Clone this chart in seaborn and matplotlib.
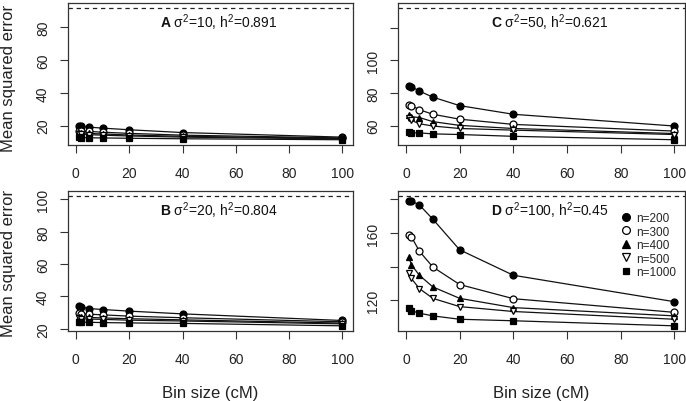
import numpy as np
import pandas as pd
import matplotlib
matplotlib.use('Agg')
import matplotlib.pyplot as plt
from matplotlib.lines import Line2D
import seaborn as sns

# data
bins = [1, 2, 5, 10, 20, 40, 100]
sizes = [200, 300, 400, 500, 1000]
panel_labels = ['A', 'B', 'C', 'D']
sigma2 = [10, 20, 50, 100]
h2 = [0.891, 0.804, 0.621, 0.45]

# one row per sample size n=200,300,400,500,1000
mse_A = [[19.6, 19.5, 19.1, 18.5, 17.5, 15.8, 13.0],
         [17.0, 16.8, 16.5, 16.0, 15.3, 14.2, 12.5],
         [15.8, 15.6, 15.3, 14.9, 14.3, 13.5, 12.2],
         [15.0, 14.8, 14.5, 14.2, 13.7, 13.0, 11.9],
         [12.8, 12.7, 12.6, 12.5, 12.3, 12.0, 11.4]]
mse_B = [[33.8, 33.4, 32.5, 31.9, 30.9, 29.2, 25.1],
         [29.5, 29.3, 29.0, 28.6, 27.8, 26.8, 24.3],
         [27.5, 27.3, 27.0, 26.7, 26.2, 25.5, 23.5],
         [26.5, 26.3, 26.0, 25.8, 25.3, 24.8, 23.0],
         [24.2, 24.1, 24.0, 23.8, 23.6, 23.3, 21.8]]
mse_C = [[84.2, 84.0, 81.2, 77.5, 72.3, 67.0, 59.8],
         [72.9, 72.3, 69.8, 67.0, 64.0, 60.8, 56.7],
         [66.7, 65.5, 65.0, 62.5, 60.2, 58.3, 55.2],
         [64.6, 63.3, 61.2, 59.8, 58.3, 57.3, 54.6],
         [56.0, 55.6, 55.6, 55.0, 54.6, 53.5, 51.4]]
mse_D = [[179.0, 179.0, 176.6, 168.2, 150.0, 134.9, 119.2],
         [159.0, 157.8, 149.2, 139.8, 129.4, 121.0, 112.9],
         [146.0, 141.2, 134.9, 128.0, 121.2, 115.7, 110.8],
         [136.5, 133.0, 127.0, 121.2, 116.3, 113.4, 108.8],
         [115.3, 113.9, 112.4, 110.8, 108.8, 107.9, 104.9]]
all_mse = [mse_A, mse_B, mse_C, mse_D]

sns.set_theme(style='ticks')
plt.rcParams['font.family'] = ['Liberation Sans', 'DejaVu Sans']
plt.rcParams['mathtext.fontset'] = 'custom'
plt.rcParams['mathtext.rm'] = 'Liberation Sans'
plt.rcParams['mathtext.bf'] = 'Liberation Sans:bold'
plt.rcParams['mathtext.it'] = 'Liberation Sans:italic'

markers = ['o', 'o', '^', 'v', 's']
faces = ['black', 'white', 'black', 'white', 'black']
msizes = [5, 5, 5, 5, 4.4]

fig = plt.figure(figsize=(6.86, 4.02), dpi=100)
# A top-left, B bottom-left, C top-right, D bottom-right
pos = {'A': [0.0991, 0.6368, 0.4155, 0.3532],
       'B': [0.0991, 0.1741, 0.4155, 0.3483],
       'C': [0.5802, 0.6368, 0.4184, 0.3532],
       'D': [0.5802, 0.1741, 0.4184, 0.3483]}

yticks = {'A': [20, 40, 60, 80], 'B': [20, 40, 60, 80, 100],
          'C': [60, 80, 100, 120], 'D': [120, 140, 160, 180]}
ylabs = {'A': ['20', '40', '60', '80'], 'B': ['20', '40', '60', '80', '100'],
         'C': ['60', '80', '100', ''], 'D': ['120', '', '160', '']}

for i, p in enumerate(panel_labels):
    ax = fig.add_axes(pos[p])
    mse = all_mse[i]
    df = pd.DataFrame({'bin': bins * len(sizes),
                       'mse': np.ravel(mse),
                       'n': np.repeat(sizes, len(bins))})
    for j, n in enumerate(sizes):
        sub = df[df['n'] == n]
        sns.lineplot(data=sub, x='bin', y='mse', ax=ax, color='#111111', lw=0.9,
                     marker=markers[j], mfc=faces[j], mec='black', mew=0.9,
                     ms=msizes[j], legend=False)
    total = sigma2[i] / (1 - h2[i])
    ax.axhline(total, color='#222222', lw=0.9, ls=(0, (3.5, 3)))

    lo = np.min(mse)
    ext = 0.04 * (total - lo)
    ax.set_ylim(lo - ext, total + ext)
    ax.set_xlim(1 - 0.04 * 99, 100 + 0.04 * 99)
    ax.set_xticks([0, 20, 40, 60, 80, 100])
    ax.set_yticks(yticks[p])
    ax.set_yticklabels(ylabs[p])
    ax.set_xlabel('')
    ax.set_ylabel('')
    ax.tick_params(axis='both', length=6, width=0.8, color='#333333',
                   labelsize=10, colors='#222222')
    ax.tick_params(axis='x', pad=9)
    ax.tick_params(axis='y', pad=7, labelrotation=90)
    for t in ax.get_yticklabels():
        t.set_va('center')
    for s in ax.spines.values():
        s.set_visible(True)
        s.set_linewidth(0.9)
        s.set_color('#333333')

    ax.text(53.5, 0.865,
            r'$\mathbf{%s}$ σ$^{2}$=%d, h$^{2}$=%s' % (p, sigma2[i], h2[i]),
            transform=ax.get_xaxis_transform(), ha='center', va='center',
            fontsize=10, color='#111111')

    if p in ('B', 'D'):
        ax.set_xlabel('Bin size (cM)', fontsize=12, labelpad=14, color='#222222')

    if p == 'D':
        handles = [Line2D([], [], ls='none', marker=markers[j], mfc=faces[j],
                          mec='black', mew=0.9, color='black', ms=msizes[j] + 0.6)
                   for j in range(len(sizes))]
        ax.legend(handles, ['n=%d' % n for n in sizes], loc='upper left',
                  bbox_to_anchor=(0.775, 0.85), frameon=False, fontsize=8.5,
                  handlelength=1.0, handletextpad=0.3, labelspacing=0.13,
                  borderpad=0, borderaxespad=0)

fig.text(0.012, 0.805, 'Mean squared error', rotation=90, ha='center',
         va='center', fontsize=12, color='#222222')
fig.text(0.012, 0.345, 'Mean squared error', rotation=90, ha='center',
         va='center', fontsize=12, color='#222222')

fig.savefig('out.png', dpi=100)
